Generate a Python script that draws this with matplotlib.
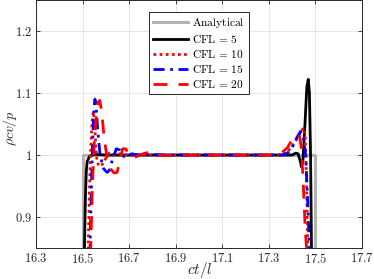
import matplotlib
matplotlib.use('Agg')
import matplotlib.pyplot as plt
from matplotlib.ticker import FuncFormatter

plt.rcParams['mathtext.fontset'] = 'cm'
plt.rcParams['font.family'] = 'DejaVu Serif'

# analytical top-hat
x_an = [16.3, 16.5, 16.5, 17.5, 17.5, 17.7]
y_an = [0.0, 0.0, 1.0, 1.0, 0.0, 0.0]

# CFL = 5
x_c5 = [16.3, 16.50, 16.505, 16.508, 16.512, 16.516, 16.52, 16.53, 16.55, 16.6, 17.0,
        17.40, 17.415, 17.425, 17.435, 17.440, 17.446, 17.455, 17.463, 17.469,
        17.474, 17.479, 17.483, 17.487, 17.495, 17.7]
y_c5 = [0.0, 0.3, 0.7, 0.85, 0.93, 0.975, 0.99, 0.998, 1.001, 1.0, 1.0,
        1.0, 1.003, 1.002, 0.99, 0.981, 0.99, 1.05, 1.11, 1.122,
        1.10, 1.0, 0.85, 0.6, 0.0, 0.0]

# CFL = 10
x_c10 = [16.3, 16.512, 16.518, 16.524, 16.53, 16.535, 16.54, 16.546, 16.552, 16.557,
         16.562, 16.57, 16.585, 16.6, 16.615, 16.63, 16.66, 16.7, 16.75, 17.0,
         17.35, 17.38, 17.41, 17.435, 17.448, 17.456, 17.462, 17.467, 17.472, 17.48, 17.7]
y_c10 = [0.0, 0.3, 0.6, 0.85, 0.95, 1.01, 1.05, 1.07, 1.05, 1.01,
         0.99, 0.982, 0.985, 0.995, 1.003, 1.0, 1.002, 0.999, 1.0, 1.0,
         1.0, 1.005, 1.02, 1.035, 1.044, 1.03, 0.95, 0.85, 0.6, 0.0, 0.0]

# CFL = 15
x_c15 = [16.3, 16.52, 16.525, 16.532, 16.538, 16.543, 16.548, 16.553, 16.558, 16.565,
         16.575, 16.59, 16.605, 16.615, 16.63, 16.645, 16.66, 16.675, 16.69, 16.71,
         16.74, 16.78, 16.85, 17.0,
         17.36, 17.38, 17.40, 17.42, 17.436, 17.448, 17.458, 17.466, 17.474, 17.48, 17.49, 17.7]
y_c15 = [0.0, 0.3, 0.6, 0.85, 0.95, 1.02, 1.07, 1.09, 1.08, 1.04,
         1.0, 0.978, 0.972, 0.975, 0.995, 1.01, 1.008, 0.998, 0.996, 1.002,
         1.0, 1.001, 1.0, 1.0,
         1.0, 1.003, 1.012, 1.028, 1.038, 1.03, 1.0, 0.93, 0.85, 0.6, 0.0, 0.0]

# CFL = 20
x_c20 = [16.3, 16.522, 16.528, 16.535, 16.542, 16.55, 16.558, 16.566, 16.574, 16.582,
         16.592, 16.605, 16.62, 16.635, 16.648, 16.66, 16.672, 16.685, 16.70, 16.715,
         16.735, 16.76, 16.79, 16.81, 16.85, 16.9, 17.0,
         17.33, 17.35, 17.38, 17.40, 17.42, 17.432, 17.44, 17.448, 17.456, 17.462, 17.47, 17.48, 17.7]
y_c20 = [0.0, 0.3, 0.6, 0.85, 0.95, 1.02, 1.06, 1.085, 1.088, 1.07,
         1.03, 0.995, 0.978, 0.971, 0.972, 0.99, 1.01, 1.01, 1.0, 0.995,
         0.998, 1.002, 1.005, 1.0, 0.999, 1.0, 1.0,
         1.0, 1.002, 1.012, 1.025, 1.033, 1.03, 1.01, 0.95, 0.88, 0.85, 0.6, 0.0, 0.0]

x_ticks = [16.3, 16.5, 16.7, 16.9, 17.1, 17.3, 17.5, 17.7]
y_ticks = [0.9, 1.0, 1.1, 1.2]

fig = plt.figure(figsize=(3.74, 2.79), dpi=100)
ax = fig.add_axes([0.0963, 0.1111, 0.8717, 0.8889])

ax.plot(x_an, y_an, color='#b3b3b3', lw=2.2, label=r'$\mathrm{Analytical}$')
ax.plot(x_c5, y_c5, color='black', lw=2, label=r'$\mathrm{CFL}\,=\,5$')
ax.plot(x_c10, y_c10, color='red', lw=2, linestyle=(0, (1, 1.2)), label=r'$\mathrm{CFL}\,=\,10$')
ax.plot(x_c15, y_c15, color='blue', lw=2, linestyle=(0, (4, 2, 1, 2)), label=r'$\mathrm{CFL}\,=\,15$')
ax.plot(x_c20, y_c20, color='red', lw=2, linestyle=(0, (5, 4)), label=r'$\mathrm{CFL}\,=\,20$')

ax.set_xlim(16.3, 17.7)
ax.set_ylim(0.85, 1.25)
ax.set_xticks(x_ticks)
ax.set_yticks(y_ticks)
fmt = FuncFormatter(lambda v, p: r'$%g$' % round(v, 3))
ax.xaxis.set_major_formatter(fmt)
ax.yaxis.set_major_formatter(fmt)
ax.tick_params(direction='in', length=3, width=0.6, colors='#262626', labelsize=9,
               top=True, right=True, pad=3)
ax.grid(True, color='#e0e0e0', lw=0.6)
ax.set_axisbelow(True)
for s in ax.spines.values():
    s.set_color('#262626')
    s.set_linewidth(0.7)

ax.set_xlabel(r'$ct/l$', fontsize=11, color='#262626')
ax.set_ylabel(r'$\rho c v/p$', fontsize=10, color='#262626')
ax.xaxis.set_label_coords(0.502, -0.05)
ax.yaxis.set_label_coords(-0.053, 0.484)

leg = ax.legend(loc='upper center', bbox_to_anchor=(0.5326, 0.956), bbox_transform=fig.transFigure,
                fontsize=8.2, frameon=True, fancybox=False, framealpha=1, edgecolor='#262626',
                handlelength=3.0, handletextpad=0.4, labelspacing=0.25, borderpad=0.35,
                borderaxespad=0)
leg.get_frame().set_linewidth(0.7)

fig.savefig('out.png', dpi=100)
